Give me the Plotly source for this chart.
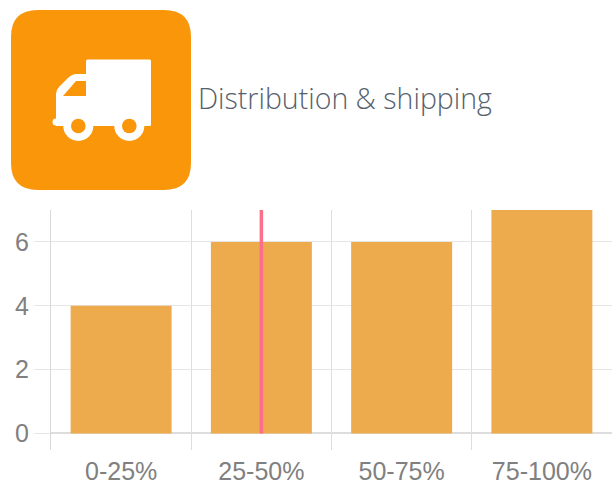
import plotly.graph_objects as go

categories = ["0-25%", "25-50%", "50-75%", "75-100%"]
values = [4, 6, 6, 7]
marker_category = ["25-50%", "25-50%"]
marker_span = [0, 7]
title_text = "Distribution &amp; shipping"

W, H = 612, 487
L, R, T, B = 51, 0, 210, 37
PW, PH = W - L - R, H - T - B


def X(px):
    return (px - L) / PW


def Y(py):
    return (H - B - py) / PH


def path(cmds):
    out = []
    for c in cmds:
        if isinstance(c, str):
            out.append(c)
        else:
            out.append(f"{X(c[0]):.5f},{Y(c[1]):.5f}")
    return " ".join(out)


def rounded(x0, y0, x1, y1, r):
    return path(["M", (x0 + r, y0), "L", (x1 - r, y0), "Q", (x1, y0), (x1, y0 + r),
                 "L", (x1, y1 - r), "Q", (x1, y1), (x1 - r, y1),
                 "L", (x0 + r, y1), "Q", (x0, y1), (x0, y1 - r),
                 "L", (x0, y0 + r), "Q", (x0, y0), (x0 + r, y0), "Z"])


def shape(d, color):
    return dict(type="path", path=d, xref="paper", yref="paper", fillcolor=color,
                line=dict(width=0), layer="above")


def circle(cx, cy, r, color):
    return dict(type="circle", xref="paper", yref="paper", x0=X(cx - r), x1=X(cx + r),
                y0=Y(cy + r), y1=Y(cy - r), fillcolor=color, line=dict(width=0), layer="above")


ORANGE = "#fa9609"
WHITE = "#ffffff"
shapes = [
    shape(rounded(11, 10, 191, 190, 27), ORANGE),
    shape(rounded(86, 59.5, 151, 126, 1.5), WHITE),
    shape(path(["M", (56, 126), "L", (56, 94), "Q", (56, 90), (59, 87), "L", (68, 78),
                "Q", (72, 74), (77, 74), "L", (88, 74), "L", (88, 126), "Z"]), WHITE),
    shape(rounded(52.5, 118.5, 70, 125.5, 3.5), WHITE),
    shape(path(["M", (63, 96), "L", (76, 81), "L", (86, 81), "L", (86, 96), "Z"]), ORANGE),
    circle(78.3, 126, 15, WHITE),
    circle(129.3, 126, 15, WHITE),
    circle(78.3, 126, 7.3, ORANGE),
    circle(129.3, 126, 7.3, ORANGE),
]

fig = go.Figure()
fig.add_trace(go.Bar(x=categories, y=values, width=0.72,
                     marker=dict(color="#eeab4e", line=dict(width=0))))
fig.add_trace(go.Scatter(x=marker_category, y=marker_span, mode="lines",
                         line=dict(color="#fb6f8b", width=3.5)))

fig.update_layout(
    width=W, height=H, showlegend=False, paper_bgcolor="white", plot_bgcolor="white",
    margin=dict(l=L, r=R, t=T, b=B, autoexpand=False),
    font=dict(family="Liberation Sans", size=25, color="#808080"),
    shapes=shapes,
    annotations=[dict(text=title_text, xref="paper", yref="paper", x=X(195.5), y=Y(98),
                      xanchor="left", yanchor="middle", showarrow=False,
                      font=dict(family="Open Sans", size=28.5, color="#56616c", weight=300))],
)
fig.update_xaxes(type="category", categoryorder="array", categoryarray=categories,
                 range=[-0.5, 3.5], tickson="boundaries", showgrid=True,
                 gridcolor="#dedede", gridwidth=1.2, ticklen=0, showline=False, zeroline=False,
                 tickfont=dict(size=25, color="#808080"), ticklabelstandoff=4)
fig.update_yaxes(range=[-0.517, 7], tickvals=[0, 2, 4, 6], showgrid=True,
                 gridcolor="#e6e6e6", gridwidth=1.3, zeroline=True, zerolinecolor="#dddddd",
                 zerolinewidth=1.5, ticks="outside", ticklen=16, tickwidth=1.3,
                 tickcolor="#e6e6e6", showline=True, linecolor="#d8d8d8", linewidth=1.2,
                 ticklabelstandoff=0, tickfont=dict(size=25, color="#808080"))
fig.write_html("out.html", config=dict(displayModeBar=False),
               post_script="document.body.style.margin='0';document.documentElement.style.overflow='hidden';")
